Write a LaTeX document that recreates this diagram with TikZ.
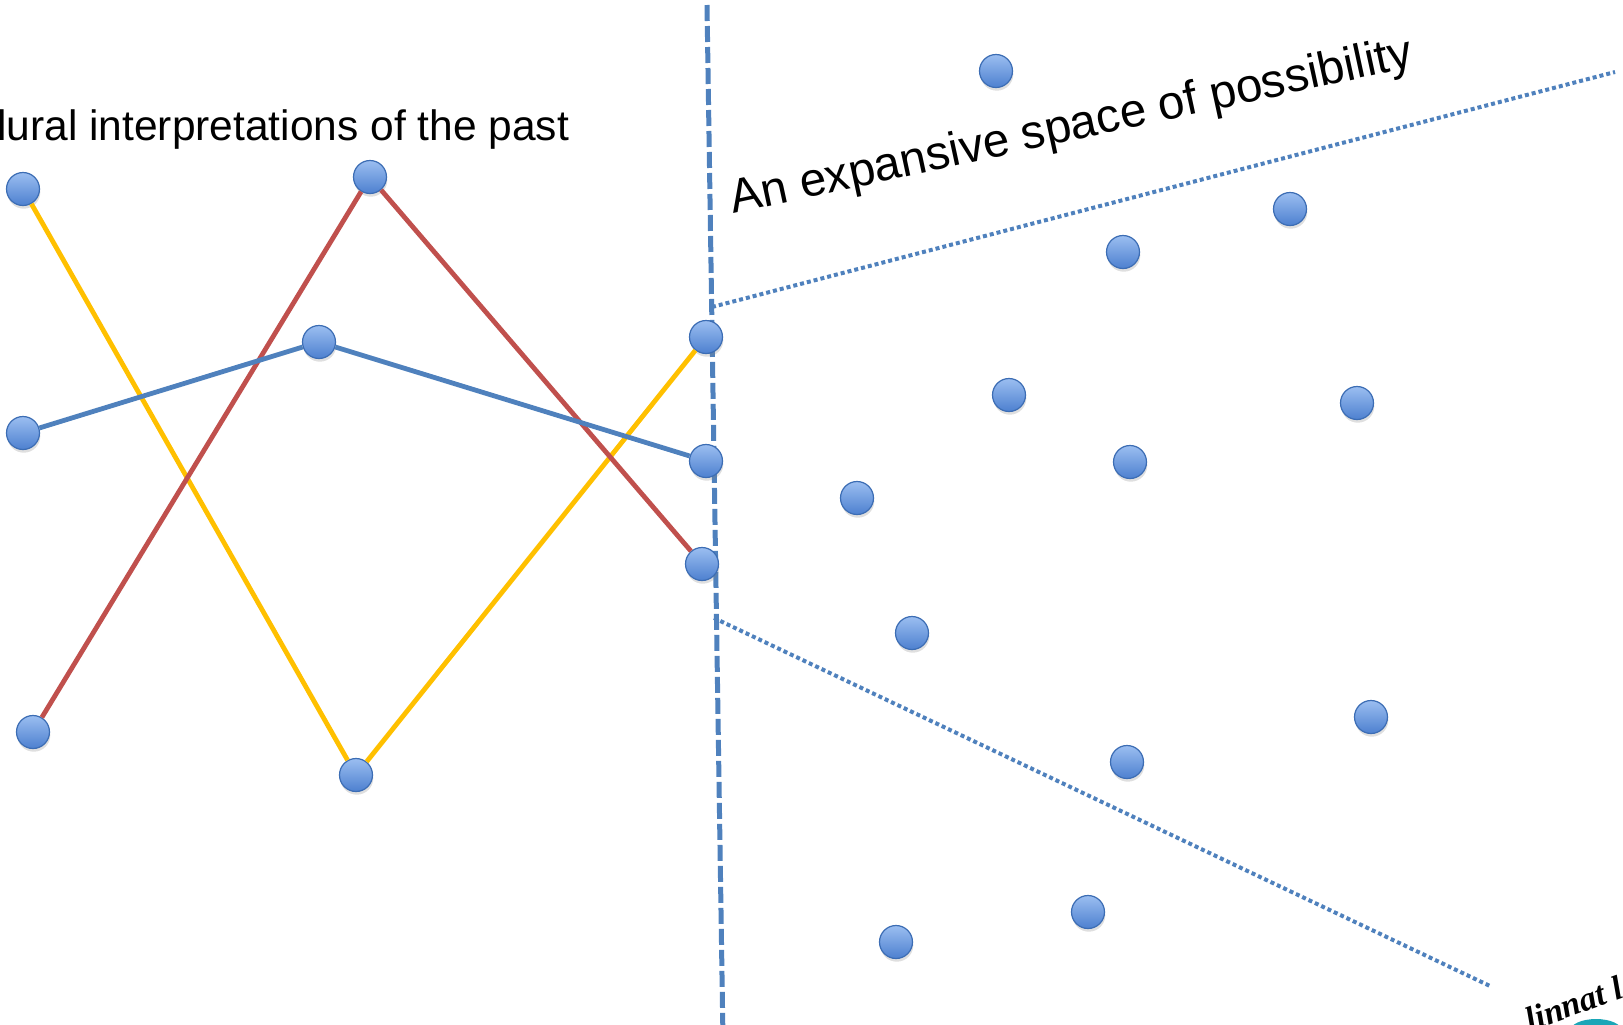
\documentclass[tikz,border=0pt]{standalone}
\usepackage{fontspec}
\setmainfont{Liberation Sans}
\newfontfamily\wmfont{Liberation Serif}
\usepackage{tikz}
\usetikzlibrary{shadows}

\definecolor{dotTop}{HTML}{9BBEF0}
\definecolor{dotBot}{HTML}{4D80CF}
\definecolor{dotRim}{HTML}{3C6DB4}
\definecolor{lnBlue}{HTML}{4F81BD}
\definecolor{lnRed}{HTML}{C0504D}
\definecolor{lnYellow}{HTML}{FFC000}
\definecolor{wmTeal}{HTML}{1AA6B7}

\begin{document}
\begin{tikzpicture}[x=0.5pt, y=-0.5pt]
        % Styles
        \tikzstyle{dot} = [circle, draw=dotRim, line width=0.6pt, top color=dotTop, bottom color=dotBot, minimum size=16.5pt, inner sep=0pt, drop shadow={opacity=0.25, shadow xshift=0.4pt, shadow yshift=-1.6pt}]
        \tikzstyle{yline} = [draw, lnYellow, line width=2.4pt]
        \tikzstyle{rline} = [draw, lnRed, line width=2.4pt]
        \tikzstyle{bline} = [draw, lnBlue, line width=2.4pt]
        \tikzstyle{divider} = [draw, lnBlue, line width=2.5pt, dash pattern=on 8pt off 2.5pt]
        \tikzstyle{fan} = [draw, lnBlue, line width=2pt, dash pattern=on 2pt off 1.5pt]

        \useasboundingbox (0,0) rectangle (1623,1024);

        % Guide lines
        \coordinate (vtop) at (707,5);
        \coordinate (vbot) at (723,1040);
        \coordinate (fanup) at (712,307);
        \coordinate (fanupend) at (1615,72);
        \coordinate (fanlow) at (714,618);
        \coordinate (fanlowend) at (1490,986);
        \path [divider] (vtop) -- (vbot);
        \path [fan] (fanup) -- (fanupend);
        \path [fan] (fanlow) -- (fanlowend);

        % Nodes (past)
        \node [dot] (yl1) at (23,189) {};
        \node [dot] (rd2) at (370,177) {};
        \node [dot] (bl2) at (319,342) {};
        \node [dot] (bl1) at (23,433) {};
        \node [dot] (rd1) at (33,732) {};
        \node [dot] (yl2) at (356,775) {};
        \node [dot] (yl3) at (706,337) {};
        \node [dot] (bl3) at (706,461) {};
        \node [dot] (rd3) at (702,564) {};

        % Nodes (possibility)
        \node [dot] (p1) at (996,71) {};
        \node [dot] (p2) at (1290,209) {};
        \node [dot] (p3) at (1123,252) {};
        \node [dot] (p4) at (1009,395) {};
        \node [dot] (p5) at (1357,403) {};
        \node [dot] (p6) at (1130,462) {};
        \node [dot] (p7) at (857,498) {};
        \node [dot] (p8) at (912,633) {};
        \node [dot] (p9) at (1371,717) {};
        \node [dot] (p10) at (1127,762) {};
        \node [dot] (p11) at (1088,912) {};
        \node [dot] (p12) at (896,942) {};

        % Edges
        \path [yline] (yl1) -- (yl2) -- (yl3);
        \path [rline] (rd1) -- (rd2) -- (rd3);
        \path [bline] (bl1) -- (bl2) -- (bl3);

        % Labels
        \node [anchor=base west, inner sep=0pt, font=\fontsize{21.25}{24}\selectfont] (pastlabel) at (-3,140) {lural interpretations of the past};
        \node [anchor=base west, inner sep=0pt, rotate=12.2, font=\fontsize{23.75}{27}\selectfont] (spacelabel) at (733,214) {An expansive space of possibility};

        % Corner fragment
        \fill [wmTeal] (1596,1031) ellipse (26 and 12);
        \node [anchor=base west, inner sep=0pt, rotate=20, font=\wmfont\bfseries\itshape\fontsize{17}{20}\selectfont] (wmark) at (1530,1032) {linnat l};
    \end{tikzpicture}
\end{document}
